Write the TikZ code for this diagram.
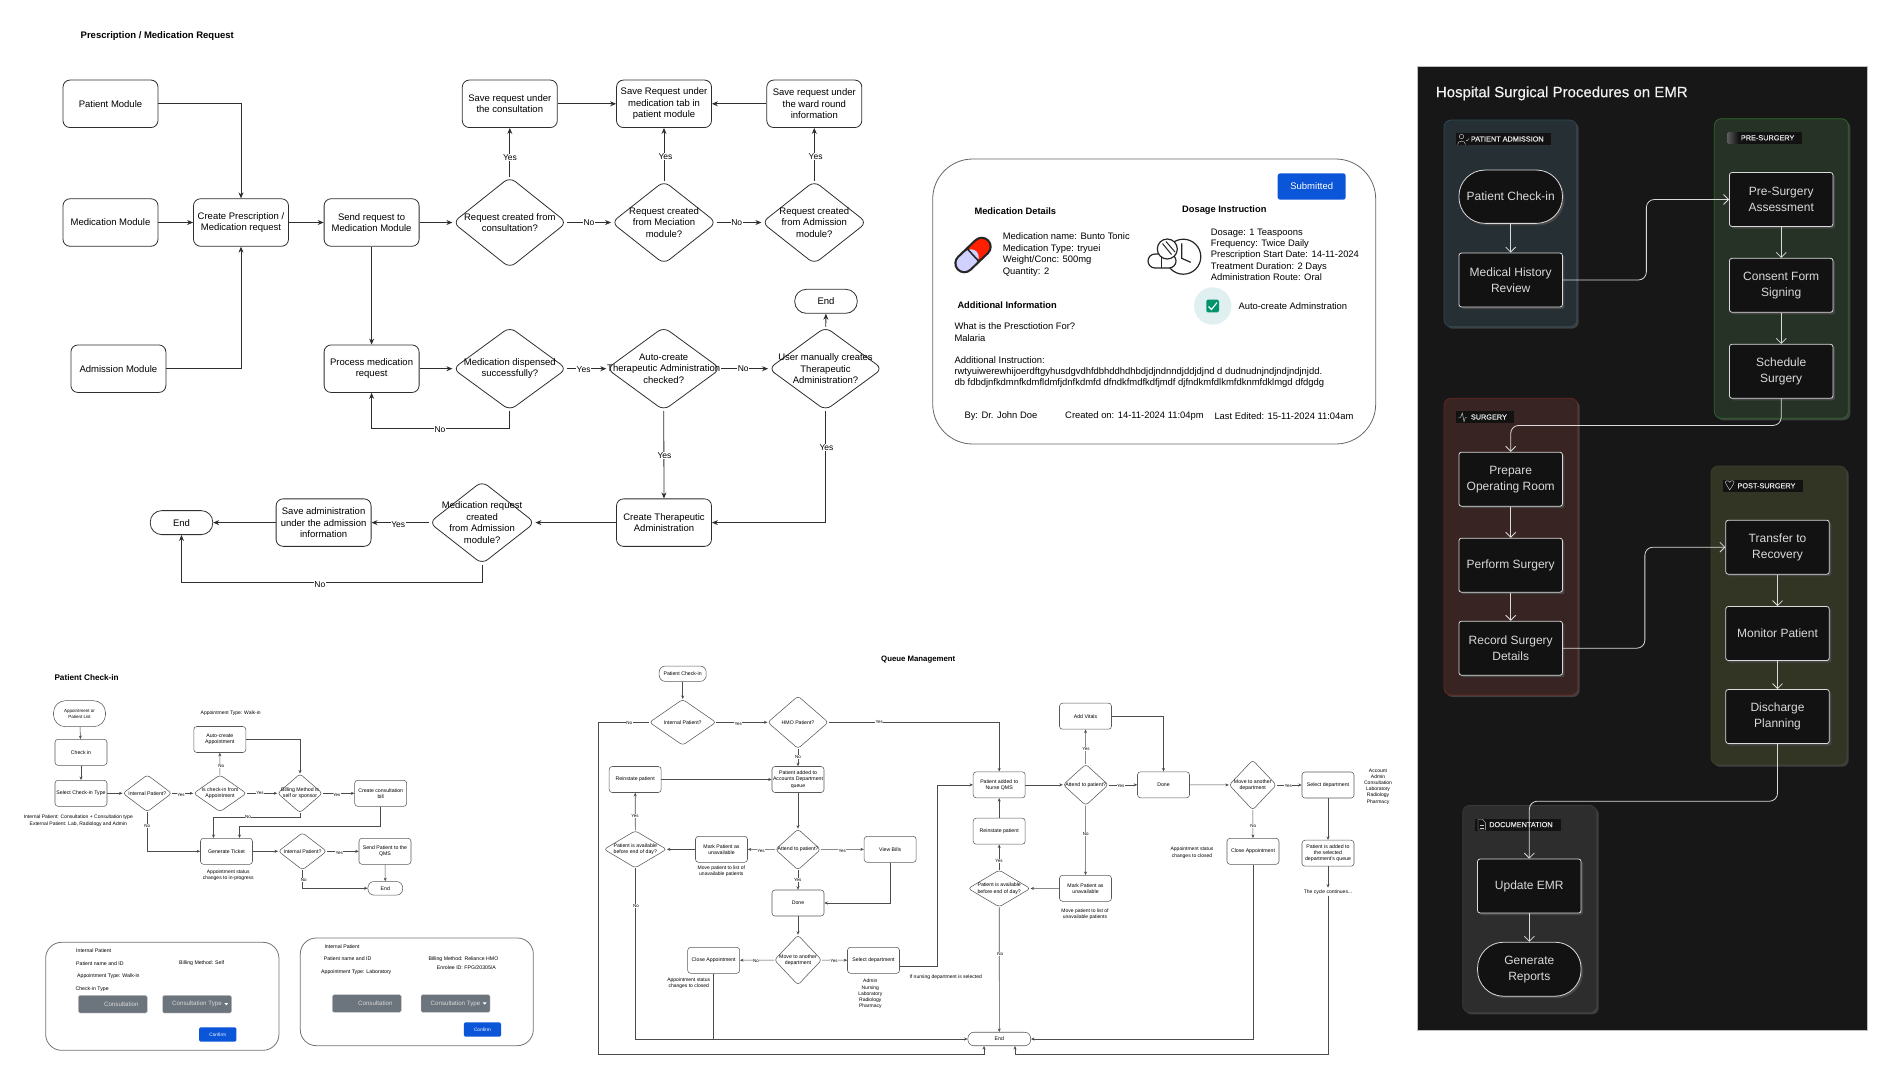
\documentclass[tikz,border=0pt]{standalone}
\usepackage{fontspec}
\setmainfont{Liberation Sans}
\newfontfamily\semibold[FakeBold=0.5]{Liberation Sans}
\usetikzlibrary{shapes.geometric,arrows.meta,shadows}

\definecolor{linec}{HTML}{2E2E2E}
\definecolor{btnblue}{HTML}{0A55D8}
\definecolor{btngrey}{HTML}{6C757D}
\definecolor{panelc}{HTML}{171717}
\definecolor{boxc}{HTML}{121212}
\definecolor{darkline}{HTML}{DADADA}
\definecolor{admfill}{HTML}{252F34}
\definecolor{admline}{HTML}{2C4A59}
\definecolor{prefill}{HTML}{263226}
\definecolor{preline}{HTML}{2B6A2B}
\definecolor{surfill}{HTML}{382422}
\definecolor{surline}{HTML}{6E2622}
\definecolor{posfill}{HTML}{333524}
\definecolor{posline}{HTML}{3C3E2E}
\definecolor{docfill}{HTML}{2D2D2D}
\definecolor{docline}{HTML}{3A3A3A}

\begin{document}
\begin{tikzpicture}[x=1pt, y=-1pt,
  mbox/.style={draw=linec, line width=.8pt, rounded corners=7pt, inner sep=0pt, minimum width=95pt, minimum height=47.5pt, align=center, font=\fontsize{9.5}{11.5}\selectfont},
  mpill/.style={mbox, rounded corners=11.5pt, minimum width=62.5pt, minimum height=24pt},
  mdia/.style n args={3}{diamond, draw=linec, line width=.8pt, rounded corners=7pt, inner sep=0pt, minimum width=#1pt, minimum height=#2pt, label={[mlab]center:{#3}}},
  mlab/.style={align=center, inner sep=0pt, font=\fontsize{9.5}{11.5}\selectfont},
  arr/.style={-{Stealth[length=6pt,width=5pt]}, draw=linec, line width=.8pt},
  yn/.style={fill=white, inner sep=.6pt, font=\fontsize{8.5}{10}\selectfont},
  title/.style={anchor=west, inner sep=0pt, font=\bfseries\fontsize{9.5}{11.5}\selectfont},
  txt/.style={anchor=west, align=left, inner sep=0pt, font=\fontsize{9.4}{11.5}\selectfont},
  card/.style={draw=black!60, line width=.8pt, rounded corners=#1},
  sbox/.style={draw=black!65, line width=.55pt, rounded corners=3pt, inner sep=0pt, minimum width=52pt, minimum height=26pt, align=center, font=\fontsize{5.2}{6.3}\selectfont},
  spill/.style={sbox, rounded corners=6pt, minimum height=13.5pt},
  sdia/.style n args={3}{diamond, draw=black!65, line width=.55pt, rounded corners=3pt, inner sep=0pt, minimum width=#1pt, minimum height=#2pt, label={[slab]center:{#3}}},
  slab/.style={align=center, inner sep=0pt, font=\fontsize{5.2}{6.3}\selectfont},
  stxt/.style={align=center, inner sep=0pt, font=\fontsize{5}{6.3}\selectfont},
  sarr/.style={-{Stealth[length=3.5pt,width=3pt]}, draw=black!70, line width=.55pt},
  sline/.style={draw=black!70, line width=.55pt},
  ys/.style={fill=white, inner sep=.4pt, font=\fontsize{4.5}{5}\selectfont},
  ftxt/.style={anchor=west, align=left, inner sep=0pt, font=\fontsize{5.2}{6.5}\selectfont},
  grey btn/.style={fill=btngrey, draw=black!20, line width=.3pt, rounded corners=1.5pt, text=white!85!black, inner sep=0pt, minimum width=69pt, minimum height=17.6pt, font=\fontsize{6.2}{7}\selectfont},
  blue btn/.style={fill=btnblue, rounded corners=1.5pt, text=white, inner sep=0pt, minimum width=37.3pt, minimum height=14.4pt, font=\fontsize{4.8}{6}\selectfont},
  grp/.style n args={4}{draw=#2, fill=#1, line width=.7pt, rounded corners=7pt, minimum width=#3pt, minimum height=#4pt, inner sep=0pt, drop shadow={shadow xshift=2pt, shadow yshift=-2pt, fill=black!75!white, opacity=1}},
  tag/.style={fill=boxc, inner sep=0pt, minimum height=12pt, anchor=west},
  tagtxt/.style={anchor=west, inner sep=0pt, text=white!90!black, font=\semibold\fontsize{7.3}{8}\selectfont},
  dbox/.style={draw=darkline, fill=boxc, line width=.8pt, rounded corners=2.5pt, inner sep=0pt, minimum width=103.5pt, minimum height=54pt, align=center, text=white!85!black, font=\fontsize{12}{16}\selectfont, drop shadow={shadow xshift=2pt, shadow yshift=-2pt, fill=white!28!black, opacity=1}},
  darr/.style={-{Straight Barb[length=5pt,width=10pt]}, draw=darkline, line width=.8pt, rounded corners=8pt},
  icon/.style={draw=white!80!black, line width=.45pt}]

\useasboundingbox (0,0) rectangle (1884,1080);

% Prescription chart: nodes
\node[title] (rxtitle) at (80.5,36) {Prescription / Medication Request};

\node[mbox] (pm) at (110.5,103.8) {Patient Module};
\node[mbox] (mm) at (110.5,222.5) {Medication Module};
\node[mbox] (am) at (118.4,368.7) {Admission Module};
\node[mbox] (cp) at (241,222.5) {Create Prescription /\\Medication request};
\node[mbox] (sr) at (371.6,222.5) {Send request to\\Medication Module};
\node[mbox] (pr) at (371.6,368.7) {Process medication\\request};
\node[mbox] (s1) at (509.8,103.8) {Save request under\\the consultation};
\node[mbox] (s2) at (664,103.8) {Save Request under\\medication tab in\\patient module};
\node[mbox] (s3) at (814.3,103.8) {Save request under\\the ward round\\information};
\node[mdia={114}{91}{Request created from\\consultation?}] (d1) at (509.8,222.5) {};
\node[mdia={105}{83}{Request created\\from Meciation\\module?}] (d2) at (664,222.5) {};
\node[mdia={105}{83}{Request created\\from Admission\\module?}] (d3) at (814.3,222.5) {};
\node[mdia={114}{83.5}{Medication dispensed\\successfully?}] (d4) at (509.8,368.7) {};
\node[mdia={114}{83.5}{Auto-create\\Therapeutic Administration\\checked?}] (d5) at (663.7,368.7) {};
\node[mdia={114}{83.5}{User manually creates\\Therapeutic\\Administration?}] (d6) at (825.5,368.7) {};
\node[mpill] (e1) at (826,301.3) {End};
\node[mbox] (ct) at (664,522.6) {Create Therapeutic\\Administration};
\node[mdia={105.8}{83}{Medication request\\created\\from Admission\\module?}] (d7) at (482.1,522.6) {};
\node[mbox] (sa) at (323.6,522.6) {Save administration\\under the admission\\information};
\node[mpill] (e2) at (181.5,522.6) {End};

% Prescription chart: edges
\draw[arr] (pm.east) -| (cp.north);
\draw[arr] (mm) -- (cp);
\draw[arr] (am.east) -| (cp.south);
\draw[arr] (cp) -- (sr);
\draw[arr] (sr) -- (d1);
\draw[arr] (sr) -- (pr);
\draw[arr] (d1) -- (s1);
\draw[arr] (d2) -- (s2);
\draw[arr] (d3) -- (s3);
\draw[arr] (s1) -- (s2);
\draw[arr] (s3) -- (s2);
\draw[arr] (d1) -- (d2);
\draw[arr] (d2) -- (d3);
\draw[arr] (pr) -- (d4);
\draw[arr] (d4) -- (d5);
\draw[arr] (d5) -- (d6);
\draw[arr] (d4.south) -- ++(0,18) -| (pr.south);
\draw[arr] (d6) -- (e1);
\draw[arr] (d5) -- (ct);
\draw[arr] (d6.south) |- (ct.east);
\draw[arr] (ct) -- (d7);
\draw[arr] (d7) -- (sa);
\draw[arr] (sa) -- (e2);
\draw[arr] (d7.south) -- ++(0,17.5) -| (e2.south);

% Prescription chart: labels
\node[yn] (y1) at (510,157.4) {Yes};
\node[yn] (y2) at (665.5,156.6) {Yes};
\node[yn] (y3) at (815.6,156.6) {Yes};
\node[yn] (n1) at (589,223) {No};
\node[yn] (n2) at (736.7,222.5) {No};
\node[yn] (y4) at (583.6,370) {Yes};
\node[yn] (n3) at (743.2,369) {No};
\node[yn] (n4) at (440,430) {No};
\node[yn] (y5) at (664.5,455.3) {Yes};
\node[yn] (y6) at (826.5,447.6) {Yes};
\node[yn] (y7) at (398.2,524.5) {Yes};
\node[yn] (n5) at (319.8,585) {No};

% Medication card
\node[card=40pt, minimum width=443pt, minimum height=285pt] (mc) at (1154.2,301.5) {};
\node[fill=btnblue, rounded corners=2.5pt, text=white, minimum width=68pt, minimum height=26.4pt, inner sep=0pt, font=\fontsize{9.5}{11}\selectfont] (sb) at (1311.7,186.5) {Submitted};
\node[title, font=\bfseries\fontsize{9.3}{11}\selectfont] (mdh) at (974.3,210.7) {Medication Details};
\node[title, font=\bfseries\fontsize{9.3}{11}\selectfont] (dih) at (1182,210) {Dosage Instruction};
\node[title, font=\bfseries\fontsize{9.3}{11}\selectfont] (aih) at (957.3,304.7) {Additional Information};
\node[txt] (mdt) at (1002.7,254.7) {Medication name: Bunto Tonic\\Medication Type: tryuei\\Weight/Conc: 500mg\\Quantity: 2};
\node[txt, font=\fontsize{9.4}{11.25}\selectfont] (dit) at (1210.7,254.7) {Dosage: 1 Teaspoons\\Frequency: Twice Daily\\Prescription Start Date: 14-11-2024\\Treatment Duration: 2 Days\\Administration Route: Oral};
\node[txt] (wt) at (954.3,332) {What is the Presctiotion For?\\Malaria};
\node[txt, font=\fontsize{9.45}{11.2}\selectfont] (ai) at (954.3,372) {Additional Instruction:\\rwtyuiwerewhijoerdftgyhusdgvdhfdbhddhdhbdjdjndnndjddjdjnd d dudnudnjndjndjndjnjdd.\\db fdbdjnfkdmnfkdmfldmfjdnfkdmfd dfndkfmdfkdfjmdf djfndkmfdlkmfdknmfdklmgd dfdgdg};
\node[txt] (by) at (964.3,415.7) {By: Dr. John Doe};
\node[txt] (co) at (1065,415.7) {Created on: 14-11-2024 11:04pm};
\node[txt] (le) at (1214.3,415.7) {Last Edited: 15-11-2024 11:04am};
\node[txt] (ac) at (1238.3,306) {Auto-create Adminstration};

% Card icons
\draw[line width=20pt, line cap=round, black!85] (981.7,246.7) -- (964.3,263.3);
\draw[line width=15.5pt, line cap=round, red!75!orange] (981.7,246.7) -- (975,253);
\draw[line width=15.5pt, line cap=round, blue!18!white] (964.3,263.3) -- (971,257);
\draw[line width=1.6pt, black!85] (967.5,249) -- (978.5,261);
\draw[line width=1.2pt, black!85] (1183.3,256.7) circle (17.5);
\draw[line width=1.2pt, black!85] (1181.7,243.3) -- (1181.7,258.3) -- (1190.7,262.3);
\draw[line width=1.2pt, black!85, fill=white, rounded corners=7pt] (1148,254) rectangle (1176,268);
\draw[line width=1.2pt, black!85] (1161.5,254) -- (1161.5,268);
\draw[line width=1.2pt, black!85, fill=white] (1167.3,249) circle (10);
\draw[line width=1pt, black!85] (1162.5,243.5) -- (1171.5,254.5);
\draw[line width=1pt, black!85] (1166,241.5) -- (1175,252);
\fill[teal!12!white] (1212.7,306) circle (18.7);
\fill[teal!85!green, rounded corners=1.5pt] (1206.3,299.6) rectangle (1219,312.4);
\draw[white, line width=1.1pt] (1208.5,306.5) -- (1211.5,309.5) -- (1217,302.5);

% Check-in chart: nodes
\node[title, font=\bfseries\fontsize{8.2}{10}\selectfont] (citle) at (54.3,677.3) {Patient Check-in};
\node[sbox, rounded corners=12pt, font=\fontsize{4.5}{6.3}\selectfont] (al) at (79.5,713.7) {Appointment or\\Patient List};
\node[sbox] (ci) at (81,752.3) {Check in};
\node[sbox] (st) at (81,793.3) {Select Check-in Type};
\node[sdia={49}{37}{Internal Patient?}] (ip) at (147.3,793.3) {};
\node[sdia={53}{37}{Is check-in from\\Appointment}] (ia) at (220,793.3) {};
\node[sbox] (ap) at (219.8,739.5) {Auto-create\\Appointment};
\node[sdia={45}{39}{Billing Method is\\self or sponsor}] (bm) at (300,793.3) {};
\node[sbox] (cb) at (380.7,793.3) {Create consultation\\bill};
\node[sbox] (gt) at (226.5,851.3) {Generate Ticket};
\node[sdia={48.4}{37.3}{Internal Patient?}] (ip2) at (302.5,851.3) {};
\node[sbox] (sq) at (385,851.3) {Send Patient to the\\QMS};
\node[spill, minimum width=34.7pt] (ce) at (385.3,888.3) {End};
\node[stxt] (at) at (230.7,713.3) {Appointment Type: Walk-in};
\node[stxt] (ie) at (78.3,820.7) {Internal Patient: Consultation + Consultation type\\External Patient:  Lab, Radiology and  Admin};
\node[stxt] (as) at (228.3,875.5) {Appointment status\\changes to in-progress};

% Check-in chart: edges
\draw[sarr] (al) -- (ci);
\draw[sarr] (ci) -- (st);
\draw[sarr] (st) -- (ip);
\draw[sarr] (ip) -- (ia);
\draw[sarr] (ia) -- (bm);
\draw[sarr] (ia) -- (ap);
\draw[sarr] (ap.east) -| (bm.north);
\draw[sarr] (bm) -- (cb);
\draw[sarr] (ip.south) |- (gt.west);
\draw[sarr] (bm.south) -- ++(0,4.6) -| ([xshift=-13pt]gt.north);
\draw[sarr] (cb.south) -- ++(0,19.4) -| ([xshift=13pt]gt.north);
\draw[sarr] (gt) -- (ip2);
\draw[sarr] (ip2) -- (sq);
\draw[sarr] (sq) -- (ce);
\draw[sarr] (ip2.south) |- (ce.west);

% Check-in chart: labels
\node[ys] (cy1) at (181,795) {Yes};
\node[ys] (cy2) at (260,793.3) {Yes};
\node[ys] (cn1) at (221.3,766) {No};
\node[ys] (cy3) at (336.7,795) {Yes};
\node[ys] (cn2) at (248,817.3) {No};
\node[ys] (cn3) at (147.3,826.3) {No};
\node[ys] (cy4) at (339.3,852.5) {Yes};
\node[ys] (cn4) at (303.7,880) {No};

% Small cards
\node[card=16pt, draw=black!55, minimum width=233.3pt, minimum height=108pt] (c1) at (162.3,996.3) {};
\node[ftxt] (c1a) at (76,950.7) {Internal Patient};
\node[ftxt] (c1b) at (76,963.3) {Patient name and ID};
\node[ftxt] (c1c) at (179,963.3) {Billing Method: Self};
\node[ftxt] (c1d) at (77,976.3) {Appointment Type: Walk-in};
\node[ftxt] (c1e) at (75.3,989.3) {Check-in Type};
\node[grey btn] (c1f) at (112.8,1004.2) {\hspace*{17pt}Consultation};
\node[grey btn] (c1g) at (197,1004.2) {Consultation Type};
\fill[white] (224.3,1003) -- (228.3,1003) -- (226.3,1005.3) -- cycle;
\node[blue btn] (c1h) at (217.7,1034.5) {Confirm};

\node[card=16pt, draw=black!55, minimum width=233pt, minimum height=107.7pt] (c2) at (416.8,991.8) {};
\node[ftxt] (c2a) at (324.3,946.3) {Internal Patient};
\node[ftxt] (c2b) at (323.7,959) {Patient name and ID};
\node[ftxt] (c2c) at (428.3,959) {Billing Method: Reliance HMO};
\node[ftxt] (c2d) at (436.7,968) {Enrolee ID: FPG/20305/A};
\node[ftxt] (c2e) at (321,972) {Appointment Type: Laboratory};
\node[grey btn] (c2f) at (366.8,1003.5) {\hspace*{17pt}Consultation};
\node[grey btn] (c2g) at (455.5,1003.5) {Consultation Type};
\fill[white] (482.7,1002.4) -- (486.7,1002.4) -- (484.7,1004.7) -- cycle;
\node[blue btn] (c2h) at (482.4,1029.5) {Confirm};

% Queue chart: nodes
\node[title, font=\bfseries\fontsize{7.8}{10}\selectfont] (qtitle) at (881,660) {Queue Management};
\node[spill, minimum width=47pt, minimum height=15.3pt] (qpc) at (682.7,673.7) {Patient Check-in};
\node[sdia={66.7}{46}{Internal Patient?}] (qip) at (682.7,722.3) {};
\node[sdia={60.6}{52.7}{HMO Patient?}] (qhm) at (798,722.3) {};
\node[sbox] (qac) at (798,779.5) {Patient added to\\Accounts Department\\queue};
\node[sbox] (qre) at (635.2,779.5) {Reinstate patient};
\node[sdia={45.3}{41}{Attend to patient?}] (qat) at (798,849.5) {};
\node[sbox] (qmk) at (721.5,849.3) {Mark Patient as\\unavailable};
\node[sdia={62.7}{37.3}{Patient is available\\before end of day?}] (qav) at (635.3,849.3) {};
\node[sbox] (qvb) at (890.2,849.3) {View Bills};
\node[sbox] (qdn) at (798,903) {Done};
\node[sdia={47.3}{50}{Move to another\\department}] (qmv) at (798,960) {};
\node[sbox] (qca) at (713.7,960.3) {Close Appointment};
\node[sbox] (qsd) at (873.5,960.3) {Select department};
\node[stxt] (qt1) at (721.3,871) {Move patient to list of\\unavailable patients};
\node[stxt] (qt2) at (688.7,983.3) {Appointment status\\changes to closed};
\node[stxt, font=\fontsize{5}{6.2}\selectfont] (qt3) at (870.3,994) {Admin\\Nursing\\Laboratory\\Radiology\\Pharmacy};
\node[stxt] (qt4) at (945.7,976.7) {If nursing department is selected};

\node[sbox] (rnq) at (999.2,784.8) {Patient added to\\Nurse QMS};
\node[sbox] (rre) at (999.2,831.2) {Reinstate patient};
\node[sdia={62.3}{37}{Patient is available\\before end of day?}] (rav) at (999.2,888.5) {};
\node[sdia={45.3}{41.3}{Attend to patient?}] (rat) at (1085.7,784.8) {};
\node[sbox] (rvt) at (1085.5,716.2) {Add Vitals};
\node[sbox] (rdn) at (1163.5,784.8) {Done};
\node[sdia={47.3}{50}{Move to another\\department}] (rmv) at (1252.7,785) {};
\node[sbox] (rsd) at (1328,785) {Select department};
\node[sbox] (rqu) at (1328,853.2) {Patient is added to\\the selected\\department's queue};
\node[sbox] (rca) at (1253,851.3) {Close Appointment};
\node[sbox] (rmk) at (1085.5,888.3) {Mark Patient as\\unavailable};
\node[spill, minimum width=62.7pt] (rend) at (999.3,1039) {End};
\node[stxt] (rt1) at (1085,914.2) {Move patient to list of\\unavailable patients};
\node[stxt] (rt2) at (1192,852.8) {Appointment status\\changes to closed};
\node[stxt, font=\fontsize{5}{6.2}\selectfont] (rt3) at (1378,786.3) {Account\\Admin\\Consultation\\Laboratory\\Radiology\\Pharmacy};
\node[stxt, inner sep=1.5pt] (rcy) at (1328,891.7) {The cycle continues...};

% Queue chart: edges
\draw[sarr] (qpc) -- (qip);
\draw[sarr] (qip) -- (qhm);
\draw[sarr] (qhm) -- (qac);
\draw[sarr] (qhm.east) -| (rnq.north);
\draw[sarr] (qre) -- (qac);
\draw[sarr] (qac) -- (qat);
\draw[sarr] (qat) -- (qmk);
\draw[sarr] (qat) -- (qvb);
\draw[sarr] (qat) -- (qdn);
\draw[sarr] (qmk) -- (qav);
\draw[sarr] (qav) -- (qre);
\draw[sarr] (qvb.south) |- (qdn.east);
\draw[sarr] (qdn) -- (qmv);
\draw[sarr] (qmv) -- (qca);
\draw[sarr] (qmv) -- (qsd);
\draw[sarr] ([yshift=-6.4pt]qsd.east) -- ++(37,0) |- (rnq.west);
\draw[sarr] (qav.south) |- (rend.west);
\draw[sline] (qca.south) -- (qca.south |- rend.west);
\draw[sarr] (qip.west) -- ++(-51,0) -- ++(0,332) -| ([xshift=-15.3pt]rend.south);
\draw[sarr] (rnq) -- (rat);
\draw[sarr] (rre) -- (rnq);
\draw[sarr] (rav) -- (rre);
\draw[sarr] (rav) -- (rend);
\draw[sarr] (rat) -- (rvt);
\draw[sarr] (rvt.east) -| (rdn.north);
\draw[sarr] (rat) -- (rdn);
\draw[sarr] (rat) -- (rmk);
\draw[sarr] (rmk) -- (rav);
\draw[sarr] (rdn) -- (rmv);
\draw[sarr] (rmv) -- (rsd);
\draw[sarr] (rmv) -- (rca);
\draw[sarr] (rca.south) |- (rend.east);
\draw[sarr] (rsd) -- (rqu);
\draw[sarr] (rqu) -- (rcy);
\draw[sarr] (rcy.south) -- ++(0,159) -| ([xshift=15.7pt]rend.south);

% Queue chart: labels
\node[ys] (qn1) at (629.3,722.5) {No};
\node[ys] (qy1) at (738.3,724) {Yes};
\node[ys] (qy2) at (879.3,722.3) {Yes};
\node[ys] (qn2) at (798,757) {No};
\node[ys] (qn3) at (761,851) {Yes};
\node[ys] (qy3) at (842.3,851) {Yes};
\node[ys] (qy4) at (797.7,880.3) {Yes};
\node[ys] (qy5) at (635,816) {Yes};
\node[ys] (qn4) at (636,906) {No};
\node[ys] (qn5) at (756,961) {No};
\node[ys] (qy6) at (834,961) {Yes};
\node[ys] (ry1) at (999,861) {Yes};
\node[ys] (rn1) at (1000.3,954.3) {No};
\node[ys] (ry2) at (1086,749.3) {Yes};
\node[ys] (ry3) at (1120.7,786) {Yes};
\node[ys] (rn2) at (1085.7,834.3) {No};
\node[ys] (ry4) at (1288.3,786) {Yes};
\node[ys] (rn3) at (1253.3,825.7) {No};

% Surgical panel
\node[fill=panelc, draw=black!25, line width=.4pt, minimum width=449.7pt, minimum height=964pt, inner sep=0pt] (pan) at (1641.85,548) {};
\node[title, font=\semibold\fontsize{15}{18}\selectfont, text=white!95!black] (ptitle) at (1435.7,93.3) {Hospital Surgical Procedures on EMR};

% Groups
\node[grp={admfill}{admline}{132.7}{206.7}] (gadm) at (1510.35,223.35) {};
\node[grp={prefill}{preline}{134}{299.6}] (gpre) at (1781.3,268.5) {};
\node[grp={surfill}{surline}{133.7}{296.7}] (gsur) at (1510.85,546.65) {};
\node[grp={posfill}{posline}{135.7}{298.7}] (gpos) at (1778.85,615.35) {};
\node[grp={docfill}{docline}{134}{207}] (gdoc) at (1529.7,908.9) {};

\node[tag, minimum width=95pt] (tadm) at (1456,139) {};
\node[tag, minimum width=75.7pt] (tpre) at (1726.3,137.8) {};
\node[tag, minimum width=57.3pt] (tsur) at (1456,417) {};
\node[tag, minimum width=80pt] (tpos) at (1722.7,485.8) {};
\node[tag, minimum width=85.6pt] (tdoc) at (1474.7,824.6) {};
\node[tagtxt] (ladm) at (1470.7,139) {PATIENT ADMISSION};
\node[tagtxt] (lpre) at (1740.7,137.8) {PRE-SURGERY};
\node[tagtxt] (lsur) at (1470.7,417) {SURGERY};
\node[tagtxt] (lpos) at (1737.3,485.8) {POST-SURGERY};
\node[tagtxt] (ldoc) at (1489,824.6) {DOCUMENTATION};

% Tag icons
\draw[icon] (1461.5,136.5) circle (2.2);
\draw[icon] (1457.5,144.5) .. controls (1457.5,140) and (1465.5,140) .. (1465.5,144.5);
\draw[icon] (1466,140) -- (1467,140.8) -- (1469,138.5);
\shade[left color=black!65!white, right color=boxc] (1727.5,132.5) rectangle (1738.5,143);
\draw[icon] (1458.3,417.5) -- (1460.5,417.5) -- (1462.3,413) -- (1464,421.5) -- (1465.3,417.5) -- (1467.3,417.5);
\draw[icon] (1726,484) .. controls (1723.5,480.5) and (1729,479.5) .. (1729.7,482.3) .. controls (1730.4,479.5) and (1736,480.5) .. (1733.4,484) -- (1729.7,490) -- cycle;
\draw[icon] (1482.5,819.5) -- (1478,819.5) -- (1478,830) -- (1485.3,830) -- (1485.3,822.5) -- cycle;
\draw[icon] (1479.8,825.5) -- (1483.6,825.5) (1479.8,827.8) -- (1483.6,827.8);

% Panel nodes
\node[dbox, rounded corners=26pt, minimum height=53.3pt] (pc) at (1510.7,196.7) {Patient Check-in};
\node[dbox] (mh) at (1510.7,280) {Medical History\\Review};
\node[dbox] (ps) at (1781.2,199.5) {Pre-Surgery\\Assessment};
\node[dbox] (cf) at (1781.2,285.3) {Consent Form\\Signing};
\node[dbox] (sc) at (1781.2,371.3) {Schedule\\Surgery};
\node[dbox] (po) at (1510.7,479.2) {Prepare\\Operating Room};
\node[dbox] (pf) at (1510.7,565.2) {Perform Surgery};
\node[dbox] (rs) at (1510.7,648.2) {Record Surgery\\Details};
\node[dbox] (tr) at (1777.5,547.2) {Transfer to\\Recovery};
\node[dbox] (mp) at (1777.5,633.5) {Monitor Patient};
\node[dbox] (dp) at (1777.5,716.5) {Discharge\\Planning};
\node[dbox] (ue) at (1529.3,886) {Update EMR};
\node[dbox, rounded corners=26pt] (gr) at (1529.3,969.2) {Generate\\Reports};

% Panel edges
\draw[darr] (pc) -- (mh);
\draw[darr] (ps) -- (cf);
\draw[darr] (cf) -- (sc);
\draw[darr] (po) -- (pf);
\draw[darr] (pf) -- (rs);
\draw[darr] (tr) -- (mp);
\draw[darr] (mp) -- (dp);
\draw[darr] (ue) -- (gr);
\draw[darr] (mh.east) -- ++(83.5,0) |- (ps.west);
\draw[darr] (sc.south) -- ++(0,26.7) -| (po.north);
\draw[darr] (rs.east) -- ++(82,0) |- (tr.west);
\draw[darr] (dp.south) -- ++(0,57.3) -| (ue.north);

\end{tikzpicture}
\end{document}
